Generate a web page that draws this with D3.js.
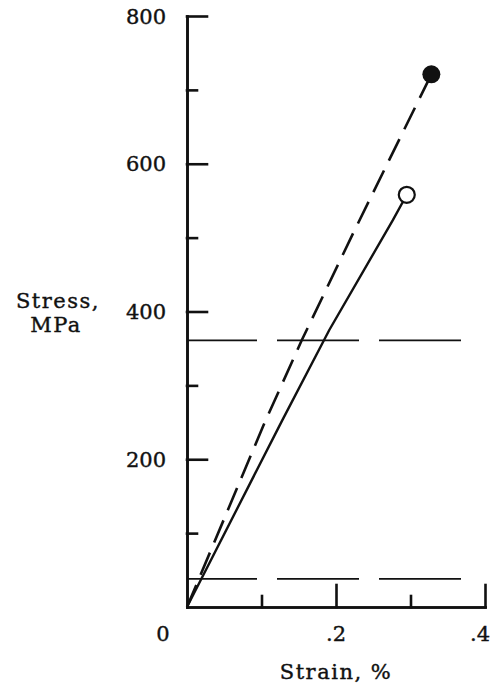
<!DOCTYPE html>
<html>
<head>
<meta charset="utf-8">
<script src="https://cdn.jsdelivr.net/npm/d3@7"></script>
<style>
  body { margin: 0; background: #fff; }
  text { font-family: "DejaVu Serif", serif; fill: #111; stroke: #111; stroke-width: 0.4px; }
</style>
</head>
<body>
<script>
// curves (strain in %, stress in MPa)
var solidStrain = [0, 0.128, 0.191, 0.2765, 0.295];
var solidStress = [0, 253, 375, 524, 558];
var dashedStrain = [0, 0.104, 0.154, 0.223, 0.328];
var dashedStress = [0, 249, 361, 506, 721];

// horizontal reference levels
var levelStress = [361, 38];
var levelEnd = [0.369, 0.376];

var yMajor = [200, 400, 600, 800];
var yMinor = [100, 300, 500, 700];
var xMajor = [0.2, 0.4];
var xMinor = [0.1, 0.3];
var yLabels = ['200', '400', '600', '800'];
var xLabels = ['0', '.2', '.4'];
var xLabelVals = [0, 0.2, 0.4];

var width = 492, height = 689;

var svg = d3.select('body')
  .append('svg')
  .attr('width', width)
  .attr('height', height);

var x = d3.scaleLinear().domain([0, 0.4]).range([187, 485]);
var y = d3.scaleLinear().domain([0, 800]).range([607, 16]);

// axes, ticks pointing inward
var yAxis = d3.axisLeft(y).tickValues(yMajor).tickSize(-20).tickSizeOuter(0).tickFormat('');
var yAxisMinor = d3.axisLeft(y).tickValues(yMinor).tickSize(-10).tickSizeOuter(0).tickFormat('');
var xAxis = d3.axisBottom(x).tickValues(xMajor).tickSize(-22).tickSizeOuter(0).tickFormat('');
var xAxisMinor = d3.axisBottom(x).tickValues(xMinor).tickSize(-11).tickSizeOuter(0).tickFormat('');

svg.append('g').attr('class', 'axis y').attr('transform', 'translate(' + x(0) + ',0)').call(yAxis);
svg.append('g').attr('class', 'axis y minor').attr('transform', 'translate(' + x(0) + ',0)').call(yAxisMinor);
svg.append('g').attr('class', 'axis x').attr('transform', 'translate(0,' + y(0) + ')').call(xAxis);
svg.append('g').attr('class', 'axis x minor').attr('transform', 'translate(0,' + y(0) + ')').call(xAxisMinor);

svg.selectAll('.axis path, .axis line')
  .attr('stroke', '#111')
  .attr('stroke-width', 2.6)
  .attr('stroke-linecap', 'square');

// tick labels
svg.selectAll('text.ylab')
  .data(yMajor)
  .enter()
  .append('text')
  .attr('class', 'ylab')
  .attr('x', x(0) - 21)
  .attr('y', function(d) { return y(d); })
  .attr('dy', '0.36em')
  .attr('text-anchor', 'end')
  .attr('font-size', 21)
  .text(function(d, i) { return yLabels[i]; });

svg.selectAll('text.xlab')
  .data(xLabelVals)
  .enter()
  .append('text')
  .attr('class', 'xlab')
  .attr('x', function(d, i) { return i == 0 ? x(d) - 24 : (i == 2 ? x(d) - 5 : x(d)); })
  .attr('y', 633)
  .attr('dy', '0.36em')
  .attr('text-anchor', 'middle')
  .attr('font-size', 21)
  .text(function(d, i) { return xLabels[i]; });

// axis titles
svg.append('text')
  .attr('x', 336).attr('y', 679)
  .attr('text-anchor', 'middle')
  .attr('font-size', 21)
  .attr('letter-spacing', 1.5)
  .text('Strain, %');

svg.append('text')
  .attr('x', 58).attr('y', 308)
  .attr('text-anchor', 'middle')
  .attr('font-size', 21)
  .attr('letter-spacing', 1.5)
  .text('Stress,');

svg.append('text')
  .attr('x', 56).attr('y', 332)
  .attr('text-anchor', 'middle')
  .attr('font-size', 21)
  .attr('letter-spacing', 1.5)
  .text('MPa');

// horizontal long-dash levels
svg.selectAll('line.level')
  .data(levelStress)
  .enter()
  .append('line')
  .attr('class', 'level')
  .attr('x1', x(0))
  .attr('x2', function(d, i) { return x(levelEnd[i]); })
  .attr('y1', function(d) { return y(d); })
  .attr('y2', function(d) { return y(d); })
  .attr('stroke', '#111')
  .attr('stroke-width', 1.8)
  .attr('stroke-dasharray', '82,20')
  .attr('stroke-dashoffset', 12);

var line = d3.line()
  .x(function(d) { return x(d[0]); })
  .y(function(d) { return y(d[1]); });

var solidPts = solidStrain.map(function(d, i) { return [d, solidStress[i]]; });
var dashedPts = dashedStrain.map(function(d, i) { return [d, dashedStress[i]]; });

svg.append('path')
  .attr('fill', 'none')
  .attr('stroke', '#111')
  .attr('stroke-width', 2.4)
  .attr('d', line(solidPts));

svg.append('path')
  .attr('fill', 'none')
  .attr('stroke', '#111')
  .attr('stroke-width', 2.6)
  .attr('stroke-dasharray', '24,11')
  .attr('d', line(dashedPts));

// end points
svg.append('circle')
  .attr('cx', x(solidStrain[solidStrain.length - 1]))
  .attr('cy', y(solidStress[solidStress.length - 1]))
  .attr('r', 8)
  .attr('fill', '#fff')
  .attr('stroke', '#111')
  .attr('stroke-width', 2.2);

svg.append('circle')
  .attr('cx', x(dashedStrain[dashedStrain.length - 1]))
  .attr('cy', y(dashedStress[dashedStress.length - 1]))
  .attr('r', 9)
  .attr('fill', '#111');
</script>
</body>
</html>
